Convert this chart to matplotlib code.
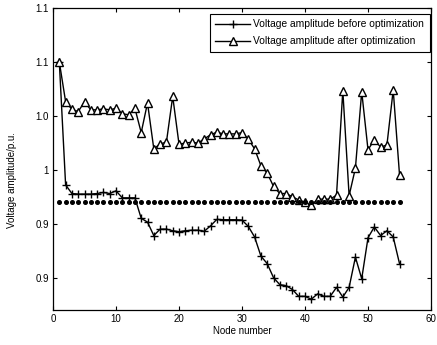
import matplotlib
matplotlib.use("Agg")
import matplotlib.pyplot as plt

plt.rcParams['font.family'] = ['Liberation Sans', 'DejaVu Sans']

nodes = list(range(1, 56))

before = [1.100, 0.986, 0.978, 0.9775, 0.9775, 0.9775, 0.978, 0.979, 0.978, 0.9805,
          0.974, 0.974, 0.974, 0.955, 0.9515, 0.939, 0.945, 0.945, 0.9435, 0.9426,
          0.9435, 0.944, 0.944, 0.943, 0.948, 0.954, 0.9537, 0.9537, 0.9537, 0.9534,
          0.9475, 0.9377, 0.920, 0.913, 0.900, 0.8935, 0.8926, 0.889, 0.8827, 0.8827,
          0.880, 0.885, 0.8827, 0.8827, 0.891, 0.882, 0.891, 0.919, 0.899, 0.937,
          0.947, 0.939, 0.9435, 0.9377, 0.913]

after = [1.100, 1.0632, 1.056, 1.054, 1.063, 1.0556, 1.0556, 1.0565, 1.0556, 1.057,
         1.052, 1.051, 1.057, 1.0345, 1.062, 1.0194, 1.024, 1.0256, 1.068, 1.0238,
         1.0247, 1.0256, 1.0247, 1.0287, 1.0324, 1.0349, 1.0333, 1.0333, 1.0333, 1.0345,
         1.0284, 1.0194, 1.0037, 0.997, 0.9846, 0.978, 0.978, 0.975, 0.972, 0.970,
         0.967, 0.9728, 0.9728, 0.9728, 0.9765, 1.0734, 0.976, 1.0015, 1.0725, 1.0185,
         1.0278, 1.021, 1.023, 1.074, 0.9954]

limit = [0.970] * 55

yticks = [0.90, 0.95, 1.00, 1.05, 1.10, 1.15]
yticklabels = ['0.9', '0.9', '1', '1.0', '1.1', '1.1']
xticks = [0, 10, 20, 30, 40, 50, 60]

fig = plt.figure(figsize=(4.37, 3.45), dpi=100)
ax = fig.add_axes([0.1213, 0.1014, 0.865, 0.8754])

ax.plot(nodes, before, color='black', lw=1.0, marker='+', markersize=6,
        markeredgewidth=1.0, label='Voltage amplitude before optimization')
ax.plot(nodes, after, color='black', lw=1.0, marker='^', markersize=5.5,
        markerfacecolor='white', markeredgewidth=1.0,
        label='Voltage amplitude after optimization')
ax.plot(nodes, limit, linestyle='none', marker='o', markersize=2.6,
        color='black')

ax.set_xlim(0, 60)
ax.set_ylim(0.87, 1.15)
ax.set_xticks(xticks)
ax.set_yticks(yticks)
ax.set_yticklabels(yticklabels)
ax.tick_params(direction='in', top=True, right=True, labelsize=7, length=3,
               width=0.8, pad=3)
for s in ax.spines.values():
    s.set_linewidth(0.9)

ax.set_xlabel('Node number', fontsize=7, labelpad=1)
ax.set_ylabel('Voltage amplitude/p.u.', fontsize=7)
ax.yaxis.set_label_coords(-0.095, 0.43)

leg = ax.legend(loc='upper right', bbox_to_anchor=(0.996, 0.98),
                fontsize=7.4, handlelength=3.4,
                fancybox=False, edgecolor='black', framealpha=1,
                borderaxespad=0.0, borderpad=0.5, labelspacing=0.7,
                handletextpad=0.3)
leg.get_frame().set_linewidth(0.8)

fig.savefig('out.png', dpi=100)
